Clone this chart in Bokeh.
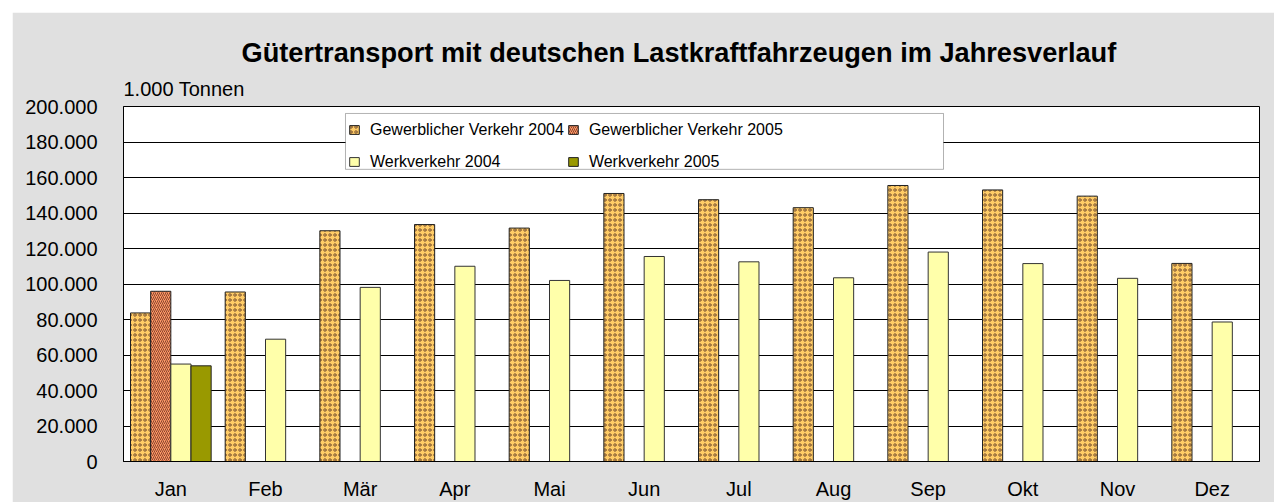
from bokeh.plotting import figure
from bokeh.models import (ColumnDataSource, FactorRange, Range1d, FixedTicker,
                          CustomJSTickFormatter, Title, Legend, LegendItem, BoxAnnotation)
from bokeh.transform import dodge
from bokeh.embed import file_html
from bokeh.resources import INLINE

months = ["Jan", "Feb", "Mär", "Apr", "Mai", "Jun", "Jul", "Aug", "Sep", "Okt", "Nov", "Dez"]
gew_2004 = [83700, 95500, 130000, 133500, 131500, 151000, 147500, 143000, 155500, 153000, 149500, 111600]
werk_2004 = [54900, 68900, 98100, 110000, 102000, 115500, 112500, 103500, 118000, 111500, 103200, 78600]
months_2005 = ["Jan"]
gew_2005 = [95900]
werk_2005 = [53900]
y_ticks = [0, 20000, 40000, 60000, 80000, 100000, 120000, 140000, 160000, 180000, 200000]

title_text = "Gütertransport mit deutschen Lastkraftfahrzeugen im Jahresverlauf"
unit_text = "1.000 Tonnen"

FONT = "Liberation Sans"

src04 = ColumnDataSource(dict(m=months, g=gew_2004, w=werk_2004))
src05 = ColumnDataSource(dict(m=months_2005, g=gew_2005, w=werk_2005))

p = figure(x_range=FactorRange(*months), y_range=Range1d(0, 200000), title=None,
           width=1262, height=490, output_backend="svg", toolbar_location=None,
           margin=(12, 0, 0, 12))
p.x_range.range_padding = 0
p.min_border_left = 111
p.min_border_right = 15
p.min_border_top = 94
p.min_border_bottom = 40
p.border_fill_color = "#E0E0E0"
p.background_fill_color = "white"
p.outline_line_color = "black"
p.outline_line_width = 1

bw = 0.213
r1 = p.vbar(x=dodge("m", -1.5 * bw, range=p.x_range), top="g", width=bw, source=src04,
            fill_color="#FFCC66", line_color="#222222", line_width=1,
            hatch_pattern="ring", hatch_scale=5, hatch_color="#7A5230", hatch_weight=1)
r2 = p.vbar(x=dodge("m", -0.5 * bw, range=p.x_range), top="g", width=bw, source=src05,
            fill_color="#FF9966", line_color="#222222", line_width=1,
            hatch_pattern="right_diagonal_line", hatch_scale=4, hatch_color="#6B3020",
            hatch_weight=1, hatch_alpha=0.8)
r3 = p.vbar(x=dodge("m", 0.5 * bw, range=p.x_range), top="w", width=bw, source=src04,
            fill_color="#FFFFAA", line_color="#333333", line_width=1)
r4 = p.vbar(x=dodge("m", 1.5 * bw, range=p.x_range), top="w", width=bw, source=src05,
            fill_color="#999900", line_color="#222222", line_width=1)

# axes
p.yaxis.ticker = FixedTicker(ticks=y_ticks)
p.yaxis.formatter = CustomJSTickFormatter(code="""
return tick.toFixed(0).replace(/\\B(?=(\\d{3})+(?!\\d))/g, ".");
""")
for ax in (p.xaxis, p.yaxis):
    ax.major_tick_out = 0
    ax.major_tick_in = 0
    ax.minor_tick_out = 0
    ax.minor_tick_in = 0
    ax.axis_line_color = "black"
    ax.major_label_text_font = FONT
    ax.major_label_text_font_size = "20px"
    ax.major_label_text_color = "black"
p.yaxis.major_label_standoff = 26
p.xaxis.major_label_standoff = 16
p.xgrid.grid_line_color = None
p.ygrid.ticker = FixedTicker(ticks=y_ticks)
p.ygrid.grid_line_color = "black"
p.ygrid.grid_line_width = 1

# titles: first added is closest to the frame
p.add_layout(Title(text=unit_text, align="left", text_font=FONT, text_font_size="20px",
                   text_font_style="normal", text_color="black", standoff=14), "above")
p.add_layout(Title(text=title_text, align="left", offset=118, text_font=FONT,
                   text_font_size="27.2px", text_font_style="bold", text_color="black",
                   standoff=1), "above")

# legend box (drawn separately so that it can be wider than its items)
p.add_layout(BoxAnnotation(left=2.345, right=8.662, bottom=164600, top=196070,
                           fill_color="white", fill_alpha=1,
                           line_color="black", line_width=1))

legend = Legend(items=[
    LegendItem(label="Gewerblicher Verkehr 2004", renderers=[r1]),
    LegendItem(label="Werkverkehr 2004", renderers=[r3]),
    LegendItem(label="Gewerblicher Verkehr 2005", renderers=[r2]),
    LegendItem(label="Werkverkehr 2005", renderers=[r4]),
], ncols=2, location=(225, 285))
legend.margin = 0
legend.padding = 3
legend.spacing = 3
legend.label_height = 29
legend.glyph_height = 11
legend.glyph_width = 12
legend.label_standoff = 10
legend.label_text_font = FONT
legend.label_text_font_size = "16px"
legend.label_text_color = "black"
legend.border_line_color = None
legend.background_fill_alpha = 0
p.add_layout(legend, "center")

open("out.html", "w").write(file_html(p, INLINE))
